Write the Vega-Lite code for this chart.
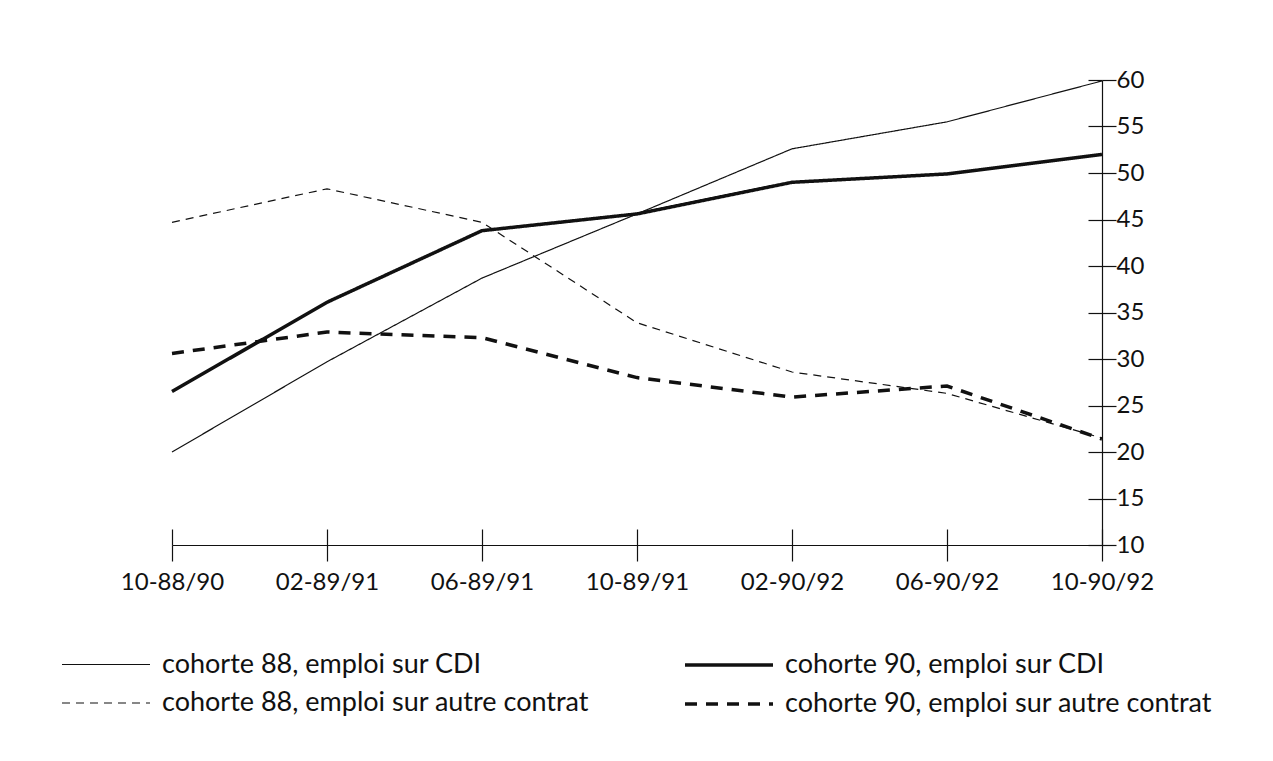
{
  "$schema": "https://vega.github.io/schema/vega-lite/v6.json",
  "width": 930,
  "height": 465,
  "autosize": {"type": "none"},
  "padding": {"left": 172, "top": 80, "right": 171, "bottom": 216},
  "background": "white",
  "config": {
    "view": {"stroke": null},
    "font": "Lato",
    "axis": {"labelFont": "Lato", "labelFontSize": 24, "labelColor": "#111", "domainColor": "#111", "tickColor": "#111", "grid": false, "title": null}
  },
  "data": {
    "values": [
      {"periode": "10-88/90", "serie": "cohorte 88, emploi sur CDI", "valeur": 20.0},
      {"periode": "02-89/91", "serie": "cohorte 88, emploi sur CDI", "valeur": 29.7},
      {"periode": "06-89/91", "serie": "cohorte 88, emploi sur CDI", "valeur": 38.7},
      {"periode": "10-89/91", "serie": "cohorte 88, emploi sur CDI", "valeur": 45.6},
      {"periode": "02-90/92", "serie": "cohorte 88, emploi sur CDI", "valeur": 52.6},
      {"periode": "06-90/92", "serie": "cohorte 88, emploi sur CDI", "valeur": 55.5},
      {"periode": "10-90/92", "serie": "cohorte 88, emploi sur CDI", "valeur": 59.9},
      {"periode": "10-88/90", "serie": "cohorte 90, emploi sur CDI", "valeur": 26.5},
      {"periode": "02-89/91", "serie": "cohorte 90, emploi sur CDI", "valeur": 36.1},
      {"periode": "06-89/91", "serie": "cohorte 90, emploi sur CDI", "valeur": 43.8},
      {"periode": "10-89/91", "serie": "cohorte 90, emploi sur CDI", "valeur": 45.6},
      {"periode": "02-90/92", "serie": "cohorte 90, emploi sur CDI", "valeur": 49.0},
      {"periode": "06-90/92", "serie": "cohorte 90, emploi sur CDI", "valeur": 49.9},
      {"periode": "10-90/92", "serie": "cohorte 90, emploi sur CDI", "valeur": 52.0},
      {"periode": "10-88/90", "serie": "cohorte 88, emploi sur autre contrat", "valeur": 44.7},
      {"periode": "02-89/91", "serie": "cohorte 88, emploi sur autre contrat", "valeur": 48.3},
      {"periode": "06-89/91", "serie": "cohorte 88, emploi sur autre contrat", "valeur": 44.7},
      {"periode": "10-89/91", "serie": "cohorte 88, emploi sur autre contrat", "valeur": 33.9},
      {"periode": "02-90/92", "serie": "cohorte 88, emploi sur autre contrat", "valeur": 28.6},
      {"periode": "06-90/92", "serie": "cohorte 88, emploi sur autre contrat", "valeur": 26.3},
      {"periode": "10-90/92", "serie": "cohorte 88, emploi sur autre contrat", "valeur": 21.5},
      {"periode": "10-88/90", "serie": "cohorte 90, emploi sur autre contrat", "valeur": 30.6},
      {"periode": "02-89/91", "serie": "cohorte 90, emploi sur autre contrat", "valeur": 32.9},
      {"periode": "06-89/91", "serie": "cohorte 90, emploi sur autre contrat", "valeur": 32.3},
      {"periode": "10-89/91", "serie": "cohorte 90, emploi sur autre contrat", "valeur": 28.0},
      {"periode": "02-90/92", "serie": "cohorte 90, emploi sur autre contrat", "valeur": 25.9},
      {"periode": "06-90/92", "serie": "cohorte 90, emploi sur autre contrat", "valeur": 27.1},
      {"periode": "10-90/92", "serie": "cohorte 90, emploi sur autre contrat", "valeur": 21.4}
    ]
  },
  "layer": [
    {
      "mark": {"type": "line", "color": "#111", "strokeJoin": "miter"},
      "encoding": {
        "x": {
          "field": "periode", "type": "ordinal",
          "sort": ["10-88/90", "02-89/91", "06-89/91", "10-89/91", "02-90/92", "06-90/92", "10-90/92"],
          "scale": {"type": "point", "padding": 0},
          "axis": {"orient": "bottom", "labelAngle": 0, "tickSize": 16, "labelPadding": 9, "domainWidth": 1.2, "tickWidth": 1.2}
        },
        "y": {
          "field": "valeur", "type": "quantitative",
          "scale": {"domain": [10, 60], "nice": false, "zero": false},
          "axis": {"orient": "right", "values": [10, 15, 20, 25, 30, 35, 40, 45, 50, 55, 60], "tickSize": 14, "labelPadding": 0, "domainWidth": 1.2, "tickWidth": 1.2, "labelBaseline": "middle"}
        },
        "strokeDash": {
          "field": "serie", "type": "nominal",
          "sort": ["cohorte 88, emploi sur CDI", "cohorte 88, emploi sur autre contrat", "cohorte 90, emploi sur CDI", "cohorte 90, emploi sur autre contrat"],
          "scale": {
            "domain": ["cohorte 88, emploi sur CDI", "cohorte 88, emploi sur autre contrat", "cohorte 90, emploi sur CDI", "cohorte 90, emploi sur autre contrat"],
            "range": [[1, 0], [8, 6], [1, 0], [12, 9]]
          },
          "legend": {
            "orient": "none", "legendX": -90, "legendY": 561, "title": null,
            "values": ["cohorte 88, emploi sur CDI", "cohorte 88, emploi sur autre contrat", "cohorte 90, emploi sur CDI", "cohorte 90, emploi sur autre contrat"],
            "columns": 2, "columnPadding": 88, "rowPadding": 2,
            "symbolType": "M-2,0H2", "symbolSize": 1936, "symbolStrokeColor": "#111",
            "labelFont": "Lato", "labelFontSize": 27, "labelColor": "#111", "labelOffset": 32, "labelLimit": 600
          }
        },
        "strokeWidth": {
          "field": "serie", "type": "nominal",
          "sort": ["cohorte 88, emploi sur CDI", "cohorte 88, emploi sur autre contrat", "cohorte 90, emploi sur CDI", "cohorte 90, emploi sur autre contrat"],
          "scale": {
            "type": "ordinal",
            "domain": ["cohorte 88, emploi sur CDI", "cohorte 88, emploi sur autre contrat", "cohorte 90, emploi sur CDI", "cohorte 90, emploi sur autre contrat"],
            "range": [1.2, 1.2, 3.5, 3.5]
          },
          "legend": {
            "orient": "none", "legendX": -90, "legendY": 561, "title": null,
            "values": ["cohorte 88, emploi sur CDI", "cohorte 88, emploi sur autre contrat", "cohorte 90, emploi sur CDI", "cohorte 90, emploi sur autre contrat"],
            "columns": 2, "columnPadding": 88, "rowPadding": 2,
            "symbolType": "M-2,0H2", "symbolSize": 1936, "symbolStrokeColor": "#111",
            "labelFont": "Lato", "labelFontSize": 27, "labelColor": "#111", "labelOffset": 32, "labelLimit": 600
          }
        }
      }
    },
    {
      "mark": {"type": "point", "opacity": 0},
      "encoding": {
        "x": {
          "field": "periode", "type": "ordinal",
          "sort": ["10-88/90", "02-89/91", "06-89/91", "10-89/91", "02-90/92", "06-90/92", "10-90/92"],
          "scale": {"type": "point", "padding": 0},
          "axis": {"orient": "bottom", "tickSize": -16, "labels": false, "domain": false, "tickWidth": 1.2}
        },
        "y": {
          "field": "valeur", "type": "quantitative",
          "scale": {"domain": [10, 60], "nice": false, "zero": false},
          "axis": {"orient": "right", "values": [10, 15, 20, 25, 30, 35, 40, 45, 50, 55, 60], "tickSize": -14, "labels": false, "domain": false, "tickWidth": 1.2}
        }
      }
    }
  ],
  "resolve": {"axis": {"x": "independent", "y": "independent"}}
}
